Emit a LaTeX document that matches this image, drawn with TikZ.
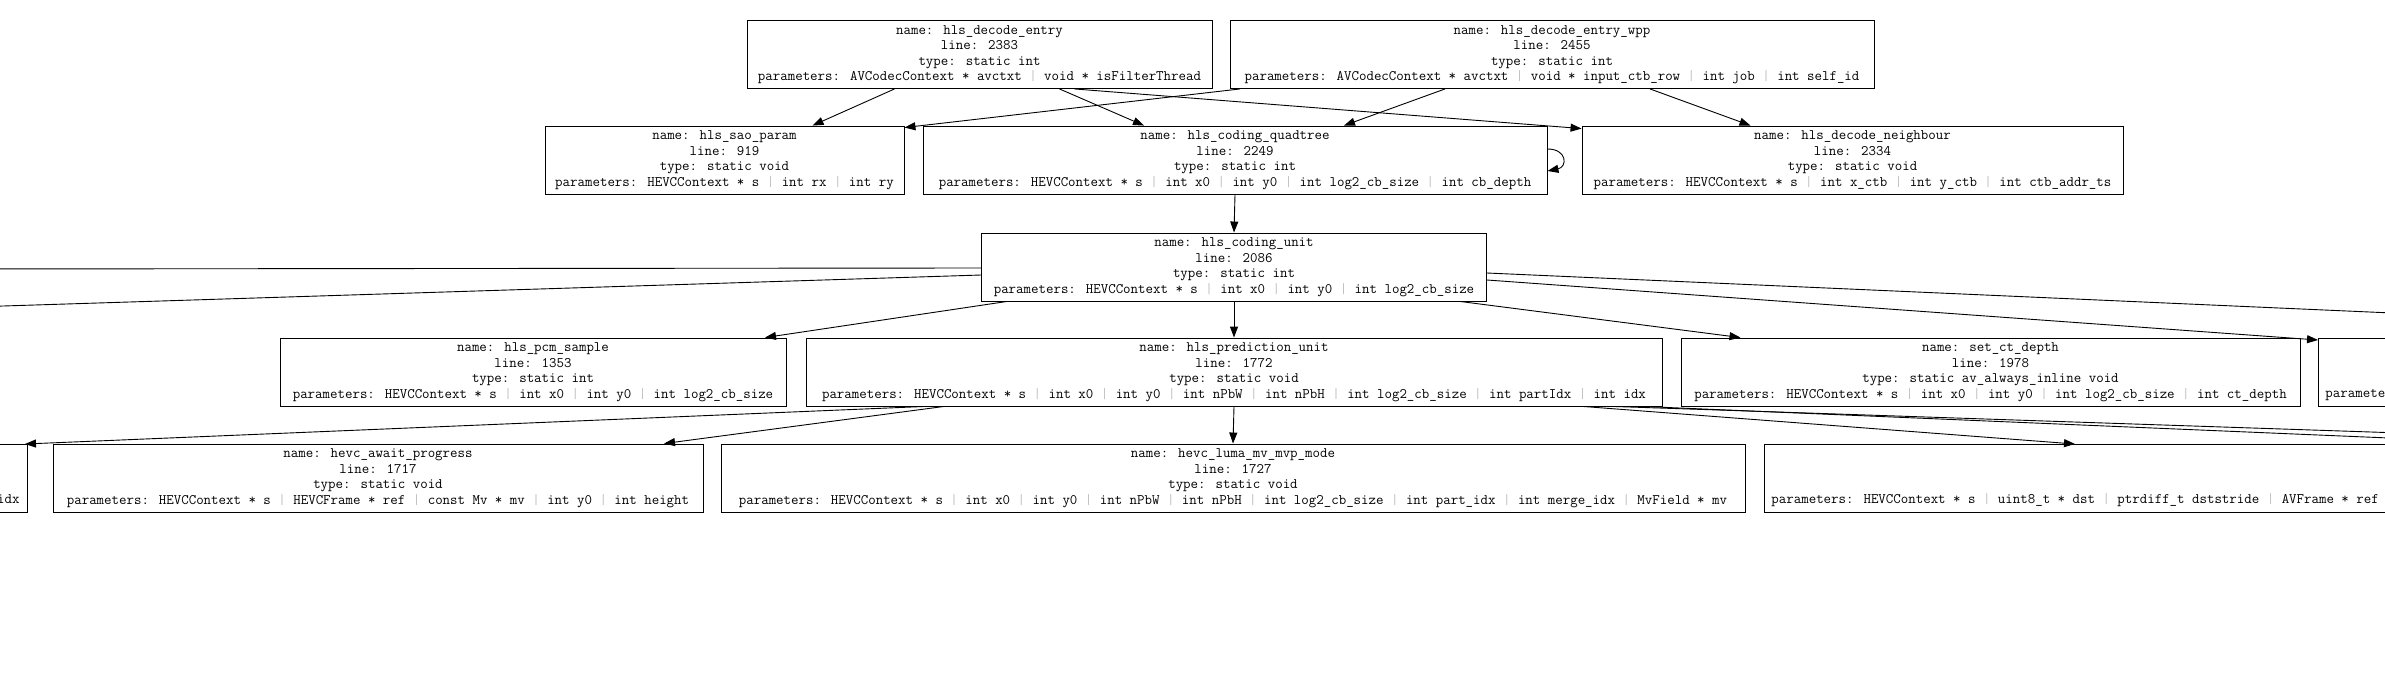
\documentclass[tikz,border=0pt]{standalone}
\usepackage{fontspec}
\usetikzlibrary{arrows.meta}
\newcommand{\argsep}{\textcolor{black!25}{|}}

\begin{document}
\begin{tikzpicture}[
    x=1pt, y=-1pt,
    fn/.style={rectangle, draw, line width=0.9pt, align=center, minimum height=68pt, inner sep=0pt, font=\ttfamily\fontsize{14.5}{15.5}\selectfont},
    arrow/.style={-{Triangle[length=11pt,width=8pt]}, line width=0.9pt}
]
\path[use as bounding box, fill=white] (0,0) rectangle (2385,683);
\node[fn, minimum width=465pt] (entry) at (979.5,54.5) {name: hls\_decode\_entry\\line: 2383\\type: static int\\parameters: AVCodecContext * avctxt \argsep{} void * isFilterThread};
\node[fn, minimum width=644pt] (wpp) at (1552,54.5) {name: hls\_decode\_entry\_wpp\\line: 2455\\type: static int\\parameters: AVCodecContext * avctxt \argsep{} void * input\_ctb\_row \argsep{} int job \argsep{} int self\_id};
\node[fn, minimum width=359pt] (sao) at (724.5,160) {name: hls\_sao\_param\\line: 919\\type: static void\\parameters: HEVCContext * s \argsep{} int rx \argsep{} int ry};
\node[fn, minimum width=624pt] (quadtree) at (1235,160) {name: hls\_coding\_quadtree\\line: 2249\\type: static int\\parameters: HEVCContext * s \argsep{} int x0 \argsep{} int y0 \argsep{} int log2\_cb\_size \argsep{} int cb\_depth};
\node[fn, minimum width=541pt] (neighbour) at (1852.5,160) {name: hls\_decode\_neighbour\\line: 2334\\type: static void\\parameters: HEVCContext * s \argsep{} int x\_ctb \argsep{} int y\_ctb \argsep{} int ctb\_addr\_ts};
\node[fn, minimum width=505pt] (cunit) at (1234,267) {name: hls\_coding\_unit\\line: 2086\\type: static int\\parameters: HEVCContext * s \argsep{} int x0 \argsep{} int y0 \argsep{} int log2\_cb\_size};
\node[fn, minimum width=506pt] (pcm) at (533,372) {name: hls\_pcm\_sample\\line: 1353\\type: static int\\parameters: HEVCContext * s \argsep{} int x0 \argsep{} int y0 \argsep{} int log2\_cb\_size};
\node[fn, minimum width=856pt] (punit) at (1234,372) {name: hls\_prediction\_unit\\line: 1772\\type: static void\\parameters: HEVCContext * s \argsep{} int x0 \argsep{} int y0 \argsep{} int nPbW \argsep{} int nPbH \argsep{} int log2\_cb\_size \argsep{} int partIdx \argsep{} int idx};
\node[fn, minimum width=619pt] (ctdepth) at (1990.5,372) {name: set\_ct\_depth\\line: 1978\\type: static av\_always\_inline void\\parameters: HEVCContext * s \argsep{} int x0 \argsep{} int y0 \argsep{} int log2\_cb\_size \argsep{} int ct\_depth};
\node[fn, anchor=north west, align=left, inner xsep=7pt] (midright) at (2318,338) {\phantom{name: x}\\\phantom{line: 1}\\\phantom{type: x}\\parameters:};
\node[fn, anchor=north east, align=right, inner xsep=8pt] (lowleft) at (28,444) {\phantom{name: x}\\\phantom{line: 1}\\\phantom{type: x}\\e\_idx};
\node[fn, minimum width=650pt] (await) at (378,478) {name: hevc\_await\_progress\\line: 1717\\type: static void\\parameters: HEVCContext * s \argsep{} HEVCFrame * ref \argsep{} const Mv * mv \argsep{} int y0 \argsep{} int height};
\node[fn, minimum width=1024pt] (lumamvp) at (1233,478) {name: hevc\_luma\_mv\_mvp\_mode\\line: 1727\\type: static void\\parameters: HEVCContext * s \argsep{} int x0 \argsep{} int y0 \argsep{} int nPbW \argsep{} int nPbH \argsep{} int log2\_cb\_size \argsep{} int part\_idx \argsep{} int merge\_idx \argsep{} MvField * mv};
\node[fn, anchor=north west, align=left, inner xsep=7pt] (lowright) at (1764,444) {\phantom{name: x}\\\phantom{line: 1}\\\phantom{type: x}\\parameters: HEVCContext * s \argsep{} uint8\_t * dst \argsep{} ptrdiff\_t dststride \argsep{} AVFrame * ref};
\coordinate (offleftA) at (-60,269);
\coordinate (offleftB) at (-60,308);
\coordinate (offrightA) at (2460,316);
\coordinate (offrightB) at (2460,435);
\coordinate (offrightC) at (2460,441);
\draw[arrow] ([xshift=-85pt]entry.south) -- ([xshift=88pt]sao.north);
\draw[arrow] ([xshift=80pt]entry.south) -- ([xshift=-91pt]quadtree.north);
\draw[arrow] ([xshift=95pt]entry.south) -- ([yshift=-3pt]neighbour.north west);
\draw[arrow] ([xshift=-312pt]wpp.south) -- ([yshift=-2pt]sao.north east);
\draw[arrow] ([xshift=-107pt]wpp.south) -- ([xshift=109pt]quadtree.north);
\draw[arrow] ([xshift=98pt]wpp.south) -- ([xshift=-102pt]neighbour.north);
\draw[arrow] ([yshift=11pt]quadtree.east) .. controls +(20pt,0pt) and +(20pt,4pt) .. ([yshift=-11pt]quadtree.east);
\draw[arrow] (quadtree.south) -- (cunit.north);
\draw[arrow] ([yshift=-1pt]cunit.west) -- (offleftA);
\draw[arrow] ([yshift=-8pt]cunit.west) -- (offleftB);
\draw[arrow] ([yshift=-6pt]cunit.east) -- (offrightA);
\draw[arrow] ([yshift=-13pt]cunit.east) -- ([yshift=-2pt]midright.north west);
\draw[arrow] ([xshift=-227pt]cunit.south) -- ([xshift=232pt]pcm.north);
\draw[arrow] (cunit.south) -- (punit.north);
\draw[arrow] ([xshift=226pt]cunit.south) -- ([xshift=-250pt]ctdepth.north);
\draw[arrow] ([xshift=-309pt]punit.south) -- ([xshift=-3pt]lowleft.north east);
\draw[arrow] ([xshift=-290pt]punit.south) -- ([xshift=286pt]await.north);
\draw[arrow] (punit.south) -- (lumamvp.north);
\draw[arrow] ([xshift=349pt]punit.south) -- ([xshift=311pt]lowright.north west);
\draw[arrow] ([xshift=379pt]punit.south) -- (offrightB);
\draw[arrow] ([xshift=409pt]punit.south) -- (offrightC);
\end{tikzpicture}
\end{document}
